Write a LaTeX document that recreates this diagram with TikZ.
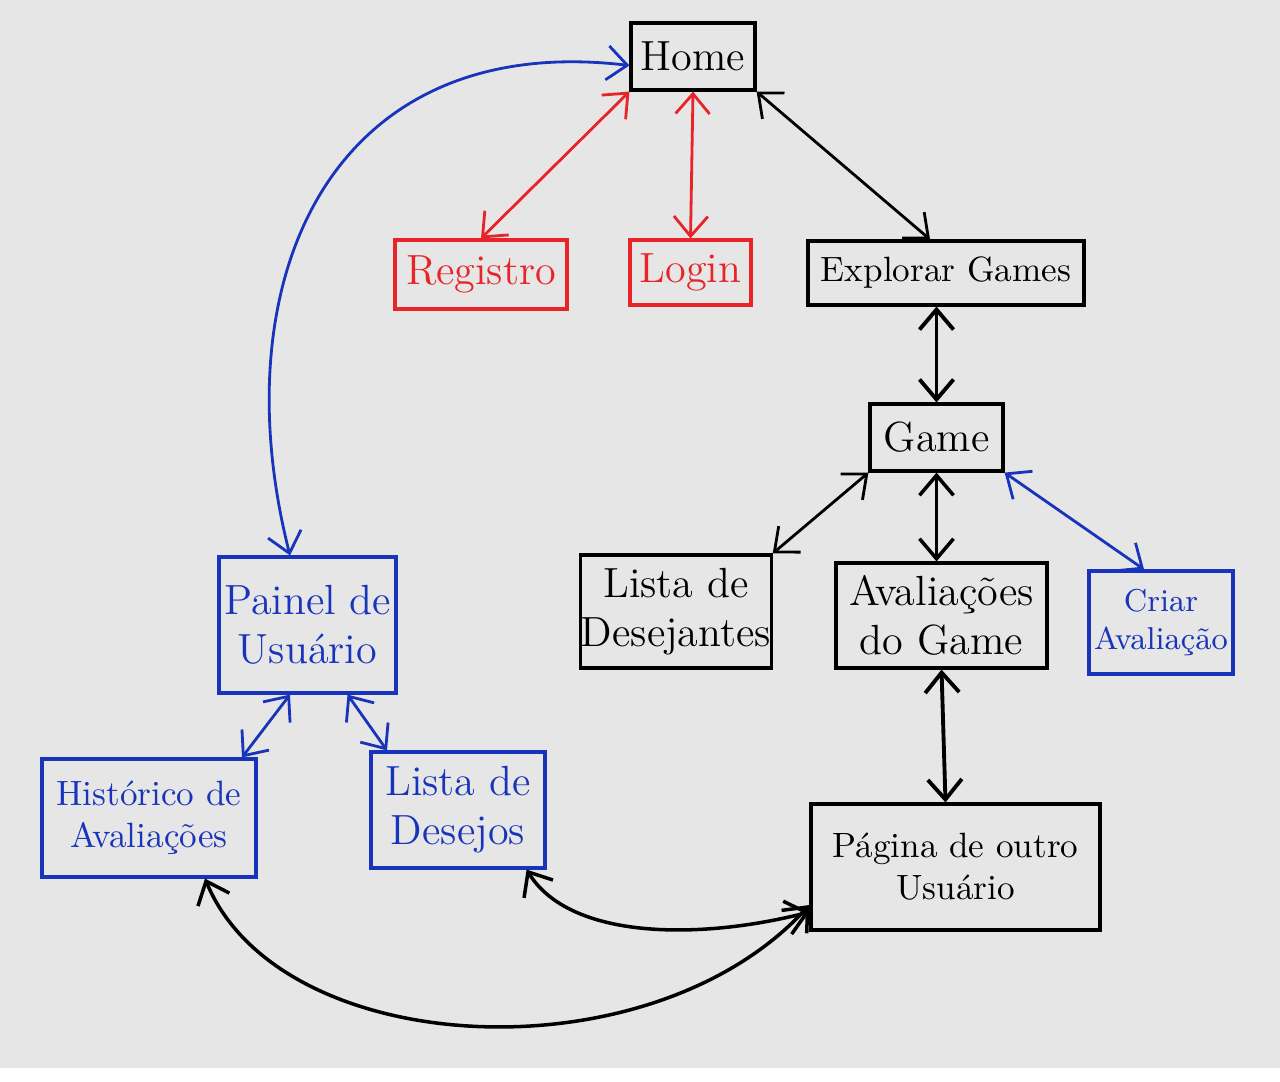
\documentclass[tikz,border=0pt]{standalone}
\usepackage{tikz}
\usetikzlibrary{arrows.meta,positioning}
\definecolor{bggray}{RGB}{230,230,230}
\definecolor{authred}{RGB}{232,36,40}
\definecolor{userblue}{RGB}{24,52,186}
\tikzstyle{page} = [rectangle, draw=black, line width=0.9pt, text=black, align=center, font=\large, inner sep=0pt]
\tikzstyle{authpage} = [page, draw=authred, text=authred]
\tikzstyle{userpage} = [page, draw=userblue, text=userblue]
\tikzstyle{link} = [draw, line width=0.8pt, {Straight Barb[length=2mm,width=3.4mm]}-{Straight Barb[length=2mm,width=3.4mm]}]

\begin{document}
\begin{tikzpicture}

\fill[bggray] (0,0) rectangle (12.8,-10.68);

% pages =============================

% nodes
\node[page, minimum width=1.24cm, minimum height=0.67cm] (home) at (6.93,-0.565) {Home};
\node[authpage, minimum width=1.72cm, minimum height=0.69cm] (registro) at (4.81,-2.745) {Registro};
\node[authpage, minimum width=1.21cm, minimum height=0.65cm] (login) at (6.905,-2.725) {Login};
\node[page, font=\normalsize, minimum width=2.76cm, minimum height=0.64cm] (explorar) at (9.46,-2.73) {Explorar Games};
\node[page, minimum width=1.33cm, minimum height=0.67cm] (game) at (9.365,-4.375) {Game};
\node[page, minimum width=1.88cm, minimum height=1.13cm] (desejantes) at (6.76,-6.115) {Lista de\\Desejantes};
\node[page, minimum width=2.11cm, minimum height=1.05cm] (avaliacoes) at (9.415,-6.155) {Avaliações\\do Game};
\node[userpage, font=\small, minimum width=1.44cm, minimum height=1.03cm] (criar) at (11.61,-6.225) {Criar\\Avaliação};
\node[userpage, minimum width=1.77cm, minimum height=1.36cm] (painel) at (3.075,-6.25) {Painel de\\Usuário};
\node[userpage, font=\normalsize, minimum width=2.14cm, minimum height=1.18cm] (historico) at (1.49,-8.18) {Histórico de\\Avaliações};
\node[userpage, minimum width=1.74cm, minimum height=1.16cm] (desejos) at (4.58,-8.10) {Lista de\\Desejos};
\node[page, font=\normalsize, minimum width=2.89cm, minimum height=1.26cm] (outro) at (9.555,-8.67) {Página de outro\\Usuário};

% edges
\path[link, authred] (home.south west) -- (registro.north);
\path[link, authred] (home.south) -- (login.north);
\path[link] (home.south east) -- ([xshift=-1.6mm]explorar.north);
\path[link, line width=1.1pt] (game.north) -- (game.north |- explorar.south);
\path[link] (game.south west) -- (desejantes.north east);
\path[link, line width=1pt] (game.south) -- (game.south |- avaliacoes.north);
\path[link, userblue] (game.south east) -- ([xshift=-1.7mm]criar.north);
\path[link, line width=1.1pt] (avaliacoes.south) -- ([xshift=-1mm]outro.north);
\path[link, userblue] ([yshift=-0.9mm]home.west) .. controls (3.3,-0.3) and (2.2,-2.8) .. ([xshift=-1.75mm]painel.north);
\path[link, userblue] ([xshift=-1.75mm]painel.south) -- ([xshift=9.3mm]historico.north);
\path[link, userblue] ([xshift=4mm]painel.south) -- ([xshift=-7.1mm]desejos.north);
\path[link, line width=1pt] ([xshift=-2mm]desejos.south east) .. controls (5.7,-9.4) and (7,-9.4) .. ([yshift=-4.5mm]outro.west);
\path[link, line width=1pt] ([xshift=5.6mm]historico.south) .. controls (2.8,-10.6) and (6.5,-10.8) .. ([yshift=-3.8mm]outro.west);

\end{tikzpicture}
\end{document}
